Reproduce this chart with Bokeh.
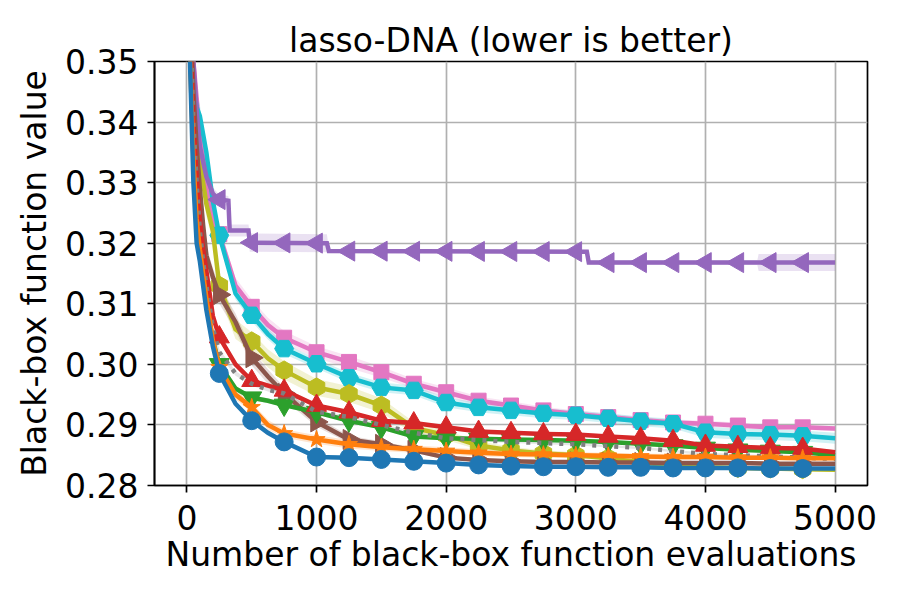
import numpy as np
from bokeh.plotting import figure
from bokeh.models import Range1d, FixedTicker, PrintfTickFormatter
from bokeh.embed import file_html
from bokeh.resources import INLINE

# ---------------- data ----------------
X = [0, 25, 50, 75, 100, 125, 150, 200, 250, 375, 500, 625, 750, 1000, 1250, 1500,
     1750, 2000, 2250, 2500, 2750, 3000, 3250, 3500, 3750, 4000, 4250, 4500, 4750, 5000]

blue = [0.375, 0.349, 0.330, 0.320, 0.317, 0.313, 0.309, 0.303, 0.2985, 0.2935, 0.2907, 0.2887,
        0.2872, 0.2847, 0.2846, 0.2843, 0.2840, 0.2837, 0.2834, 0.2832, 0.2831, 0.2831, 0.2830,
        0.2830, 0.2829, 0.2829, 0.2829, 0.2828, 0.2828, 0.2828]
orange = [0.375, 0.350, 0.334, 0.324, 0.319, 0.315, 0.311, 0.304, 0.2995, 0.2950, 0.2929, 0.2900,
          0.2886, 0.2876, 0.2868, 0.2863, 0.2860, 0.2857, 0.2854, 0.2852, 0.2851, 0.2850, 0.2849,
          0.2848, 0.2847, 0.2847, 0.2846, 0.2846, 0.2845, 0.2845]
green = [0.375, 0.352, 0.336, 0.327, 0.320, 0.314, 0.310, 0.304, 0.300, 0.2960, 0.2945, 0.2940,
         0.2933, 0.2921, 0.2907, 0.2896, 0.2881, 0.2878, 0.2877, 0.2876, 0.2875, 0.2874, 0.2872,
         0.2869, 0.2866, 0.2862, 0.2859, 0.2857, 0.2855, 0.2850]
red = [0.375, 0.355, 0.340, 0.331, 0.324, 0.319, 0.3155, 0.308, 0.3045, 0.3000, 0.2973, 0.2965,
       0.2957, 0.2932, 0.2921, 0.2907, 0.2903, 0.2896, 0.2889, 0.2887, 0.2885, 0.2884, 0.2881,
       0.2878, 0.2874, 0.2866, 0.2864, 0.2862, 0.2861, 0.2855]
brown = [0.378, 0.360, 0.345, 0.336, 0.329, 0.323, 0.318, 0.3144, 0.3115, 0.3070, 0.3011, 0.2980,
         0.2952, 0.2905, 0.2876, 0.2868, 0.2858, 0.2846, 0.2842, 0.2840, 0.2839, 0.2839, 0.2838,
         0.2838, 0.2837, 0.2837, 0.2837, 0.2836, 0.2836, 0.2836]
pink = [0.380, 0.362, 0.350, 0.344, 0.338, 0.334, 0.330, 0.324, 0.3215, 0.3130, 0.3095, 0.3065,
        0.3044, 0.3020, 0.3004, 0.2987, 0.2968, 0.2954, 0.2940, 0.2932, 0.2924, 0.2918, 0.2913,
        0.2908, 0.2904, 0.2902, 0.2899, 0.2896, 0.2896, 0.2894]
gray = [0.378, 0.358, 0.340, 0.330, 0.322, 0.317, 0.313, 0.306, 0.302, 0.2985, 0.2968, 0.2958,
        0.2952, 0.2922, 0.2913, 0.2900, 0.2887, 0.2878, 0.2875, 0.2872, 0.2870, 0.2868, 0.2865,
        0.2862, 0.2857, 0.2852, 0.2850, 0.2848, 0.2846, 0.2844]
olive = [0.380, 0.362, 0.348, 0.340, 0.334, 0.330, 0.3265, 0.322, 0.313, 0.3058, 0.3038, 0.3010,
         0.2990, 0.2962, 0.2951, 0.2932, 0.2895, 0.2883, 0.2866, 0.2858, 0.2853, 0.2850, 0.2845,
         0.2838, 0.2833, 0.2830, 0.2829, 0.2828, 0.2827, 0.2826]
cyan = [0.380, 0.362, 0.346, 0.3425, 0.341, 0.338, 0.335, 0.327, 0.3213, 0.3117, 0.3081, 0.3050,
        0.3026, 0.3001, 0.2978, 0.2962, 0.2957, 0.2937, 0.2929, 0.2924, 0.2919, 0.2916, 0.2911,
        0.2906, 0.2902, 0.2888, 0.2885, 0.2884, 0.2882, 0.2878]

# purple has its own evaluation grid (it is a clear staircase)
purple_x = [0, 25, 50, 75, 100, 150, 200, 250, 320, 330, 475, 485, 1080, 1095, 3085, 3100,
            4400, 4410, 5000]
purple = [0.380, 0.362, 0.350, 0.342, 0.336, 0.331, 0.3282, 0.3272, 0.3270, 0.3221, 0.3221,
          0.3201, 0.3200, 0.3187, 0.3186, 0.3168, 0.3168, 0.3168, 0.3168]

# standard-error half widths of the shaded bands
blue_err = [0.003, 0.003, 0.002, 0.0015, 0.0012, 0.001, 0.0008, 0.0006, 0.0005, 0.0004, 0.0003,
            0.0003, 0.0003, 0.0003, 0.0003, 0.0002, 0.0002, 0.0002, 0.0002, 0.0002, 0.0002,
            0.0002, 0.0002, 0.0002, 0.0002, 0.0002, 0.0002, 0.0002, 0.0002, 0.0002]
orange_err = [0.003, 0.003, 0.002, 0.0018, 0.0015, 0.0012, 0.001, 0.0009, 0.0008, 0.0008, 0.0008,
              0.0008, 0.0007, 0.0007, 0.0007, 0.0006, 0.0006, 0.0006, 0.0006, 0.0005, 0.0005,
              0.0005, 0.0005, 0.0005, 0.0005, 0.0005, 0.0004, 0.0004, 0.0004, 0.0004]
green_err = [0.003, 0.003, 0.002, 0.0015, 0.0012, 0.001, 0.0008, 0.0006, 0.0005, 0.0004, 0.0004,
             0.0004, 0.0004, 0.0003, 0.0003, 0.0003, 0.0003, 0.0003, 0.0003, 0.0003, 0.0003,
             0.0003, 0.0003, 0.0003, 0.0003, 0.0003, 0.0003, 0.0003, 0.0003, 0.0003]
red_err = [0.003, 0.003, 0.002, 0.0015, 0.0012, 0.001, 0.0008, 0.0006, 0.0005, 0.0004, 0.0004,
           0.0004, 0.0004, 0.0003, 0.0003, 0.0003, 0.0003, 0.0003, 0.0003, 0.0003, 0.0003,
           0.0003, 0.0003, 0.0003, 0.0003, 0.0003, 0.0003, 0.0003, 0.0003, 0.0003]
brown_err = [0.003, 0.003, 0.0025, 0.002, 0.002, 0.0018, 0.0016, 0.0015, 0.0015, 0.0014, 0.0013,
             0.0012, 0.0010, 0.0008, 0.0006, 0.0005, 0.0004, 0.0003, 0.0003, 0.0003, 0.0003,
             0.0003, 0.0003, 0.0003, 0.0003, 0.0003, 0.0003, 0.0003, 0.0003, 0.0003]
pink_err = [0.003, 0.003, 0.0025, 0.002, 0.002, 0.0018, 0.0016, 0.0015, 0.0014, 0.0013, 0.0012,
            0.0012, 0.0011, 0.0010, 0.0010, 0.0009, 0.0008, 0.0008, 0.0007, 0.0007, 0.0006,
            0.0006, 0.0006, 0.0005, 0.0005, 0.0005, 0.0005, 0.0004, 0.0004, 0.0004]
gray_err = [0.003, 0.003, 0.002, 0.0015, 0.0012, 0.001, 0.0008, 0.0006, 0.0005, 0.0004, 0.0003,
            0.0003, 0.0003, 0.0002, 0.0002, 0.0002, 0.0002, 0.0002, 0.0002, 0.0002, 0.0002,
            0.0002, 0.0002, 0.0002, 0.0002, 0.0002, 0.0002, 0.0002, 0.0002, 0.0002]
olive_err = [0.003, 0.003, 0.003, 0.0028, 0.0025, 0.0022, 0.002, 0.0018, 0.0017, 0.0016, 0.0015,
             0.0015, 0.0015, 0.0014, 0.0013, 0.0012, 0.0010, 0.0008, 0.0007, 0.0006, 0.0005,
             0.0005, 0.0004, 0.0004, 0.0004, 0.0003, 0.0003, 0.0003, 0.0003, 0.0003]
cyan_err = [0.003, 0.003, 0.0025, 0.002, 0.0018, 0.0016, 0.0014, 0.0012, 0.0011, 0.0010, 0.0010,
            0.0009, 0.0009, 0.0008, 0.0008, 0.0008, 0.0008, 0.0008, 0.0008, 0.0008, 0.0008,
            0.0008, 0.0008, 0.0008, 0.0008, 0.0009, 0.0009, 0.0009, 0.0009, 0.0009]
purple_err = [0.003, 0.003, 0.002, 0.002, 0.0015, 0.0012, 0.001, 0.0008, 0.0008, 0.0010, 0.0010,
              0.0015, 0.0015, 0.0003, 0.0003, 0.0004, 0.0004, 0.0014, 0.0014]

marker_x = list(range(250, 5000, 250))
x_ticks = [0, 1000, 2000, 3000, 4000, 5000]
y_ticks = [0.28, 0.29, 0.30, 0.31, 0.32, 0.33, 0.34, 0.35]

# (x, y, err, color, marker, marker angle, marker size, dash) from bottom to top
series = [
    (X, pink, pink_err, "#e377c2", "square", 0.0, 15, "solid"),
    (X, cyan, cyan_err, "#17becf", "hex", 0.0, 19, "solid"),
    (X, olive, olive_err, "#bcbd22", "hex", np.pi / 6, 19, "solid"),
    (purple_x, purple, purple_err, "#9467bd", "triangle", np.pi / 2, 20, "solid"),
    (X, brown, brown_err, "#8c564b", "triangle", -np.pi / 2, 20, "solid"),
    (X, green, green_err, "#2ca02c", "inverted_triangle", 0.0, 20, "solid"),
    (X, red, red_err, "#d62728", "triangle", 0.0, 20, "solid"),
    (X, gray, gray_err, "#7f7f7f", None, 0.0, 0, "4 7"),
    (X, orange, orange_err, "#ff7f0e", "star", 0.0, 18, "solid"),
    (X, blue, blue_err, "#1f77b4", "circle", 0.0, 18, "solid"),
]

FONT = "DejaVu Sans"

p = figure(frame_width=713, frame_height=424,
           min_border_left=154, min_border_right=17, min_border_top=61, min_border_bottom=99,
           x_range=Range1d(-250, 5250), y_range=Range1d(0.28, 0.35),
           output_backend="svg", toolbar_location=None,
           title="lasso-DNA (lower is better)")

p.background_fill_color = "white"
p.border_fill_color = "white"
p.outline_line_color = "black"
p.outline_line_width = 1.7

p.title.text_font = FONT
p.title.text_font_size = "33px"
p.title.text_font_style = "normal"
p.title.align = "center"
p.title.text_color = "black"
p.title.standoff = 4

p.xaxis.ticker = FixedTicker(ticks=x_ticks)
p.yaxis.ticker = FixedTicker(ticks=y_ticks)
p.yaxis.formatter = PrintfTickFormatter(format="%.2f")
p.xaxis.axis_label = "Number of black-box function evaluations"
p.yaxis.axis_label = "Black-box function value"
for ax in (p.xaxis[0], p.yaxis[0]):
    ax.major_label_text_font = FONT
    ax.major_label_text_font_size = "33px"
    ax.major_label_text_color = "black"
    ax.axis_label_text_font = FONT
    ax.axis_label_text_font_size = "33px"
    ax.axis_label_text_font_style = "normal"
    ax.axis_label_text_color = "black"
    ax.axis_line_color = "black"
    ax.axis_line_width = 1.7
    ax.major_tick_line_color = "black"
    ax.major_tick_line_width = 1.7
    ax.major_tick_out = 7
    ax.major_tick_in = 0
    ax.minor_tick_line_color = None
p.xaxis.major_label_standoff = 12
p.yaxis.major_label_standoff = 9
p.xaxis.axis_label_standoff = 2
p.yaxis.axis_label_standoff = 8

p.grid.grid_line_color = "#b0b0b0"
p.grid.grid_line_width = 1.7

# shaded bands first
for xs, ys, es, col, mk, ang, sz, dash in series:
    xa = np.array(xs, dtype=float)
    ya = np.array(ys)
    ea = np.array(es)
    p.varea(x=xa, y1=ya - ea, y2=ya + ea, fill_color=col, fill_alpha=0.2)

# lines and markers
for xs, ys, es, col, mk, ang, sz, dash in series:
    xa = np.array(xs, dtype=float)
    ya = np.array(ys)
    p.line(xa, ya, line_color=col, line_width=4.5, line_dash=dash, line_join="miter")
    if mk is not None:
        my = np.interp(marker_x, xa, ya)
        p.scatter(marker_x, my, marker=mk, size=sz, angle=ang,
                  fill_color=col, line_color=col, line_width=1)

open("out.html", "w").write(file_html(p, INLINE))
